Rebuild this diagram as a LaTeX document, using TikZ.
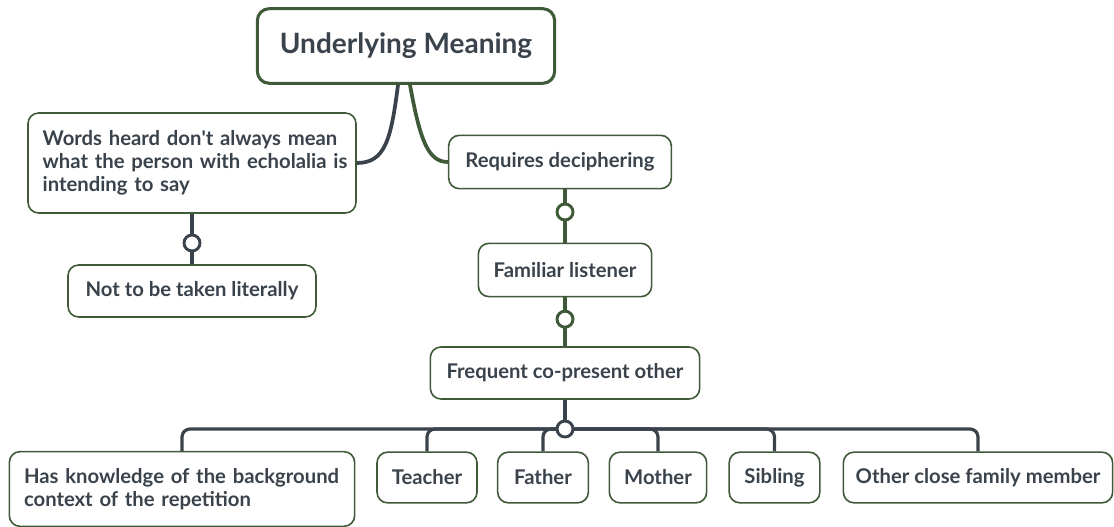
\documentclass[tikz,border=0pt]{standalone}
\usepackage{fontspec}
\setmainfont{Lato}
\usetikzlibrary{positioning}
\definecolor{boxgreen}{HTML}{3F5A38}
\definecolor{inkgray}{HTML}{3A434C}
\tikzstyle{topic}=[draw=boxgreen,line width=2.3pt,rounded corners=9pt,fill=white,
  text=inkgray,font=\fontsize{21}{25}\selectfont\bfseries,inner sep=0pt]
\tikzstyle{sub}=[draw=boxgreen,line width=1.2pt,rounded corners=8pt,fill=white,
  text=inkgray,font=\fontsize{15.2}{17.4}\selectfont\bfseries,inner sep=0pt]
\tikzstyle{link}=[line width=2.4pt,rounded corners=6pt]
\tikzstyle{knob}=[circle,line width=2.2pt,fill=white,inner sep=0pt,minimum size=12pt]

\begin{document}
\begin{tikzpicture}[x=0.75pt,y=-0.75pt]
\useasboundingbox (0,0) rectangle (1114,527);

\node[topic,minimum width=223pt,minimum height=56pt] (U) at (406,46) {Underlying Meaning};
\node[sub,minimum width=246pt,minimum height=75pt,text width=224pt,align=left] (W) at (192,163)
  {\mbox{Words heard don\textquotesingle t always mean}\\\mbox{what the person with echolalia is}\\\mbox{intending to say}};
\node[sub,minimum width=186pt,minimum height=39pt] (N) at (192,291) {Not to be taken literally};
\node[sub,minimum width=167pt,minimum height=40pt] (R) at (560,162) {Requires deciphering};
\node[sub,minimum width=130pt,minimum height=40pt] (F) at (565,270) {Familiar listener};
\node[sub,minimum width=202pt,minimum height=39pt] (Q) at (565,373) {Frequent co-present other};

\node[sub,minimum width=259pt,minimum height=56pt,text width=237pt,align=left] (H) at (182,489)
  {\mbox{Has knowledge of the background}\\\mbox{context of the repetition}};
\node[sub,minimum width=75pt,minimum height=38pt] (T) at (427,477.5) {Teacher};
\node[sub,minimum width=68pt,minimum height=38pt] (P) at (543,477.5) {Father};
\node[sub,minimum width=73pt,minimum height=38pt] (M) at (658,477.5) {Mother};
\node[sub,minimum width=68pt,minimum height=38pt] (S) at (774.5,477.5) {Sibling};
\node[sub,minimum width=202pt,minimum height=38pt] (O) at (978,477.5) {Other close family member};

\coordinate (hub) at (565,429);

% main branches
\draw[link,inkgray,line width=2.8pt] ([xshift=-6pt]U.south) .. controls (391,140) and (385,163) .. (W.east);
\draw[link,boxgreen,line width=2.8pt] ([xshift=3pt]U.south) .. controls (420,140) and (428,162) .. (R.west);

% chains
\draw[link,inkgray] (W.south) -- (N.north) node[knob,draw=inkgray,midway,yshift=-3pt] {};
\draw[link,boxgreen] ([xshift=3.75pt]R.south) -- (F.north) node[knob,draw=boxgreen,midway,yshift=3pt] {};
\draw[link,boxgreen] (F.south) -- (Q.north) node[knob,draw=boxgreen,midway,yshift=2pt] {};

% bus
\draw[link,inkgray] (Q.south) -- (hub);
\draw[link,inkgray] (H.north) |- (hub) -| (O.north);
\foreach \k in {T,P,M,S}
  \draw[link,inkgray] (hub) -| (\k.north);
\node[knob,draw=inkgray] at (hub) {};

\end{tikzpicture}
\end{document}
